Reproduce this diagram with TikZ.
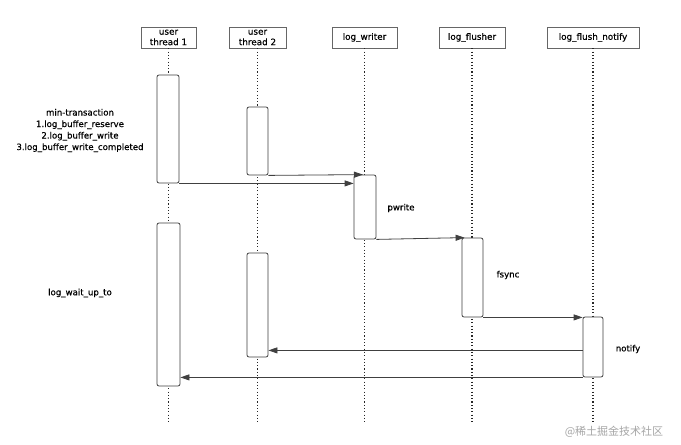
\documentclass[tikz,border=0pt]{standalone}
\usepackage{fontspec}
\setmainfont{DejaVu Sans}[FakeBold=0.5]
\newfontfamily\cjk{Noto Sans CJK SC}
\usetikzlibrary{arrows.meta}
\tikzset{
 hdr/.style={draw=black!60, fill=white, line width=0.7pt, font=\fontsize{8.8}{10.5}\selectfont, align=center, inner sep=0pt, minimum height=21pt},
 act/.style={draw=black!75, fill=white, line width=0.8pt, rounded corners=2pt, inner sep=0pt},
 life/.style={line width=1.1pt, black!85, dash pattern=on 1.1pt off 2.2pt},
 msg/.style={draw=black!75, line width=0.8pt, -{Triangle[length=9pt,width=6pt]}},
 lbl/.style={font=\fontsize{8.6}{11.5}\selectfont, align=center}
}
\begin{document}
\begin{tikzpicture}[x=1pt,y=-1pt]
\fill[white] (0,0) rectangle (681,445);
\useasboundingbox (0,0) rectangle (681,445);
% headers
\node[hdr, minimum width=55pt] (h1) at (168.5,37.5) {user\\thread 1};
\node[hdr, minimum width=57pt] (h2) at (257.5,37.5) {user\\thread 2};
\node[hdr, minimum width=65pt] (h3) at (364.5,37.5) {log\_writer};
\node[hdr, minimum width=66pt] (h4) at (472,37.5) {log\_flusher};
\node[hdr, minimum width=92pt] (h5) at (593,37.5) {log\_flush\_notify};
% lifelines
\coordinate (bot) at (0,422);
\foreach \h in {h1,h2,h3,h4,h5}{
  \draw[life] (\h.south) -- (\h.south |- bot);
}
% activations
\node[act, minimum width=22pt, minimum height=108pt] (a1) at (168,129) {};
\node[act, minimum width=21pt, minimum height=68pt] (b1) at (257.5,141) {};
\node[act, minimum width=22pt, minimum height=64pt] (w) at (365,207) {};
\node[act, minimum width=21pt, minimum height=79pt] (f) at (472.5,277.5) {};
\node[act, minimum width=20pt, minimum height=60pt] (n) at (593,347) {};
\node[act, minimum width=23pt, minimum height=163pt] (a2) at (168.5,304.5) {};
\node[act, minimum width=21pt, minimum height=104pt] (b2) at (257.5,305) {};
% messages
\draw[msg] (a1.south east) -- (a1.south east -| w.west);
\draw[msg] (b1.south east) -- ([xshift=-2pt]w.north);
\draw[msg] (w.south east) -- ([xshift=3pt]f.north west);
\draw[msg] (f.south east) -- (f.south east -| n.west);
\path (b2.south east) ++(0,-7) coordinate (r1);
\draw[msg] (r1 -| n.west) -- (r1);
\path (a2.south east) ++(0,-9) coordinate (r2);
\draw[msg] (r2 -| n.west) -- (r2);
% labels
\node[lbl] (t1) at (80,130.5) {min-transaction\\1.log\_buffer\_reserve\\2.log\_buffer\_write\\3.log\_buffer\_write\_completed};
\node[lbl] (t2) at (80,293) {log\_wait\_up\_to};
\node[lbl] (t3) at (401,208) {pwrite};
\node[lbl] (t4) at (508,275) {fsync};
\node[lbl] (t5) at (628,349) {notify};
\node[font=\cjk\fontsize{11}{13}\selectfont, text=black!35] (wm) at (614,432) {@稀土掘金技术社区};
\end{tikzpicture}
\end{document}
